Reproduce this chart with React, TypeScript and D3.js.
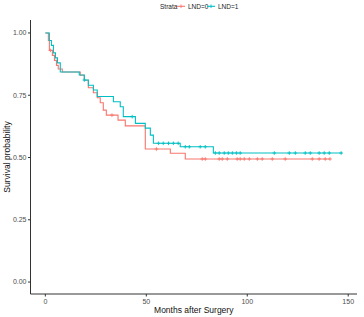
import React from "react";
import * as d3 from "d3";

// LND=0 (red)
const lnd0Times = [0, 1.5, 2, 3.5, 4.5, 5.5, 6.4, 8.4, 17.3, 19.3, 21.3, 23.8, 25.7, 27.2, 28.7, 30.2, 36, 39.6, 49.5, 61.9, 69.3];
const lnd0Surv = [1.0, 0.97, 0.93, 0.91, 0.89, 0.87, 0.855, 0.843, 0.83, 0.81, 0.78, 0.76, 0.74, 0.72, 0.69, 0.67, 0.65, 0.627, 0.534, 0.517, 0.494];
const lnd0End = 141;
const lnd0Censor = [2.5, 33, 55, 77.7, 79.2, 86.1, 87.6, 90.1, 95, 96.5, 98.5, 101, 105, 107.4, 112.4, 118.8, 132.2, 135.6, 138.6, 141];

// LND=1 (teal)
const lnd1Times = [0, 2, 3, 4, 5, 6, 7.4, 16.8, 19.3, 21.3, 23.8, 25.7, 33.7, 37.1, 38.6, 44.6, 49.5, 52, 53.5, 66.8, 83.2];
const lnd1Surv = [1.0, 0.97, 0.95, 0.92, 0.9, 0.88, 0.843, 0.831, 0.811, 0.79, 0.771, 0.745, 0.724, 0.704, 0.664, 0.637, 0.618, 0.59, 0.557, 0.543, 0.518];
const lnd1End = 147;
const lnd1Censor = [19.3, 43, 56, 58.4, 61, 63.4, 65.8, 69.3, 71.3, 76.7, 79.2, 84.2, 86.1, 88.6, 90.6, 92.6, 94.6, 96.5, 113.4, 120.8, 123.8, 128.7, 131.2, 135.6, 138.1, 140.6, 146.5];

const xTicks = [0, 50, 100, 150];
const yTicks = [0, 0.25, 0.5, 0.75, 1.0];
const strata = ["LND=0", "LND=1"];
const colors = ["#F8766D", "#00BFC4"];

const FONT = "'Liberation Sans', Arial, sans-serif";

function survAt(times: number[], surv: number[], t: number) {
  let s = surv[0];
  for (let i = 0; i < times.length; i++) if (times[i] <= t) s = surv[i];
  return s;
}

export default function App() {
  const W = 364, H = 317;
  const x = d3.scaleLinear().domain([-7.35, 154.35]).range([30.5, 357]);
  const y = d3.scaleLinear().domain([-0.05, 1.05]).range([294.5, 20.5]);
  const line = d3.line<[number, number]>().x(d => x(d[0])).y(d => y(d[1])).curve(d3.curveStepAfter);

  const series = [
    { times: lnd0Times, surv: lnd0Surv, end: lnd0End, censor: lnd0Censor, color: colors[0] },
    { times: lnd1Times, surv: lnd1Surv, end: lnd1End, censor: lnd1Censor, color: colors[1] },
  ];

  const axisColor = "#333";
  const left = 30.5, bottom = 294;

  return (
    <svg width={W} height={H} style={{ position: "absolute", left: 0, top: 0, background: "#fff" }} fontFamily={FONT}>
      <rect width={W} height={H} fill="#fff" />
      {series.map((s, i) => {
        const pts: [number, number][] = s.times.map((t, k) => [t, s.surv[k]] as [number, number]);
        pts.push([s.end, s.surv[s.surv.length - 1]]);
        return (
          <g key={i}>
            <path d={line(pts) || ""} fill="none" stroke={s.color} strokeWidth={1.1} />
            {s.censor.map((c, k) => {
              const cx = x(c), cy = y(survAt(s.times, s.surv, c));
              return (
                <g key={k} stroke={s.color} strokeWidth={0.9}>
                  <line x1={cx - 1.8} x2={cx + 1.8} y1={cy} y2={cy} />
                  <line x1={cx} x2={cx} y1={cy - 1.8} y2={cy + 1.8} />
                </g>
              );
            })}
          </g>
        );
      })}
      {/* axes */}
      <line x1={left} x2={left} y1={20} y2={bottom} stroke={axisColor} strokeWidth={1} />
      <line x1={left} x2={357} y1={bottom} y2={bottom} stroke={axisColor} strokeWidth={1} />
      {yTicks.map(t => (
        <g key={t}>
          <line x1={left - 2.5} x2={left} y1={y(t)} y2={y(t)} stroke={axisColor} />
          <text x={left - 4} y={y(t)} dy="0.35em" textAnchor="end" fontSize={7} fill="#4d4d4d">{t.toFixed(2)}</text>
        </g>
      ))}
      {xTicks.map(t => (
        <g key={t}>
          <line x1={x(t)} x2={x(t)} y1={bottom} y2={bottom + 2.5} stroke={axisColor} />
          <text x={x(t)} y={bottom + 10} textAnchor="middle" fontSize={7} fill="#4d4d4d">{t}</text>
        </g>
      ))}
      <text x={(left + 357) / 2} y={313} textAnchor="middle" fontSize={8.5} fill="#111">Months after Surgery</text>
      <text transform={`translate(10,${(20 + bottom) / 2}) rotate(-90)`} textAnchor="middle" fontSize={8.5} fill="#111">Survival probability</text>
      {/* legend */}
      <text x={160} y={8.5} fontSize={6.5} fill="#222">Strata</text>
      {strata.map((s, i) => {
        const kx = 177 + i * 30;
        return (
          <g key={s}>
            <line x1={kx} x2={kx + 8} y1={6.3} y2={6.3} stroke={colors[i]} strokeWidth={1.1} />
            <line x1={kx + 4} x2={kx + 4} y1={4.5} y2={8.1} stroke={colors[i]} strokeWidth={0.9} />
            <text x={kx + 11} y={8.5} fontSize={6.5} fill="#222">{s}</text>
          </g>
        );
      })}
    </svg>
  );
}
